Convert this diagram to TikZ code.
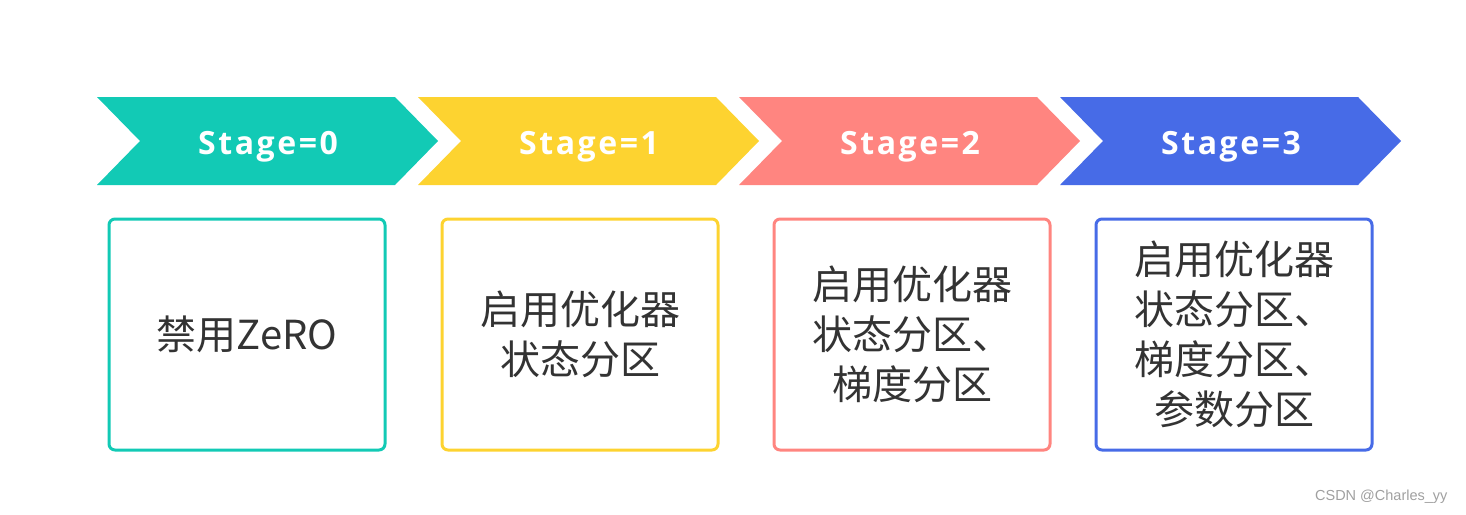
\documentclass[tikz,border=0pt]{standalone}
\usepackage{fontspec}
\newfontfamily\cjk{Noto Sans CJK SC}
\newfontfamily\stagefont{Open Sans}[LetterSpace=8]
\newfontfamily\markfont{Liberation Sans}

\definecolor{stageA}{HTML}{12CAB5}
\definecolor{stageB}{HTML}{FDD330}
\definecolor{stageC}{HTML}{FF8580}
\definecolor{stageD}{HTML}{476BE7}
\definecolor{textgray}{HTML}{333333}
\definecolor{markgray}{HTML}{A0A0A0}

\tikzset{
  stagebox/.style={draw=#1, line width=3pt, rounded corners=6pt,
    minimum width=276pt, minimum height=231pt, inner sep=0pt,
    align=center, text=textgray, font=\cjk\fontsize{40}{50}\selectfont},
  stagelabel/.style={text=white, anchor=base,
    font=\stagefont\bfseries\fontsize{32}{36}\selectfont},
}

\begin{document}
\begin{tikzpicture}[x=1pt, y=-1pt]

  \useasboundingbox (0,0) rectangle (1466,514);

  % Chevrons
  \foreach \i/\col in {0/stageA, 1/stageB, 2/stageC, 3/stageD}{
    \pgfmathsetmacro\L{97+321*\i}
    \fill[\col] (\L,97) -- (\L+298,97) -- (\L+341,141) -- (\L+298,185)
      -- (\L,185) -- (\L+43,141) -- cycle;
    \node[stagelabel] (stage\i) at (\L+171,154) {Stage=\i};
  }

  % Boxes
  \node[stagebox=stageA] (box0) at (247,334.5) {禁用ZeRO};
  \node[stagebox=stageB] (box1) at (580,334.5) {启用优化器\\状态分区};
  \node[stagebox=stageC] (box2) at (912,334.5) {启用优化器\\状态分区、\\梯度分区};
  \node[stagebox=stageD] (box3) at (1234,334.5) {启用优化器\\状态分区、\\梯度分区、\\参数分区};

  % Watermark
  \node[font=\markfont\fontsize{14.5}{14.5}\selectfont, text=markgray, anchor=east]
    (mark) at (1451,497) {CSDN @Charles\_yy};

\end{tikzpicture}
\end{document}
